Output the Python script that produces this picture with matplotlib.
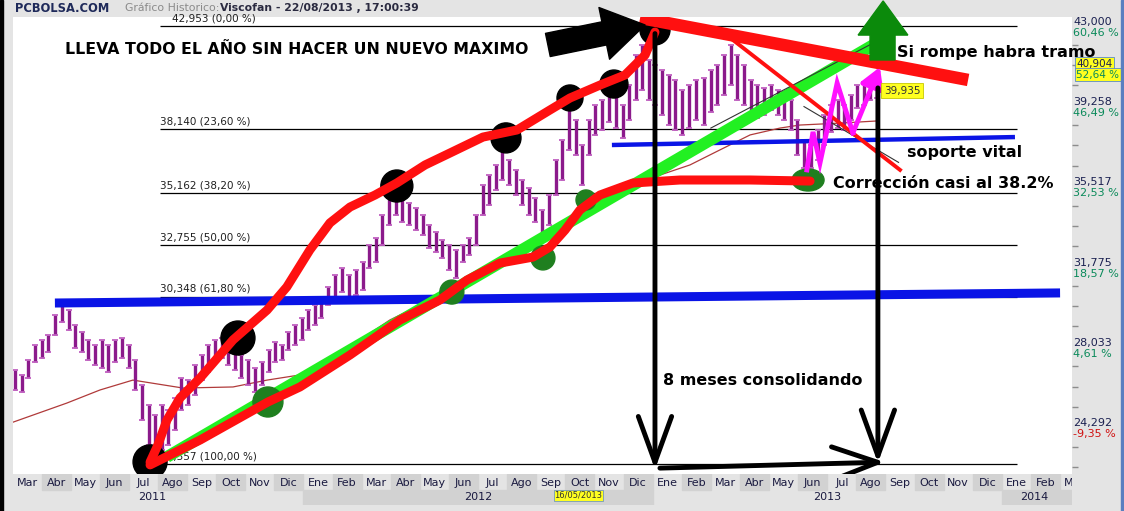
import matplotlib
matplotlib.use('Agg')
import matplotlib.pyplot as plt
from matplotlib.patches import Ellipse, Rectangle, Polygon
import numpy as np
import pandas as pd

plt.rcParams['font.family'] = ['DejaVu Sans']

# weekly high / low ranges (Viscofan, mar 2011 - ago 2013)
week_start = '2011-03-04'
week_high = [26.93, 26.70, 27.40, 28.09, 28.33, 28.56, 29.49, 29.96, 29.72, 29.02,
             28.70, 28.33, 28.09, 28.33, 28.09, 28.33, 28.42, 28.09, 27.40, 26.23,
             25.30, 24.83, 25.30, 25.07, 25.62, 26.56, 26.46, 27.16, 27.63, 28.09,
             28.33, 28.42, 28.23, 28.09, 27.63, 27.40, 27.02, 27.30, 27.86, 28.23,
             28.09, 28.70, 29.02, 29.35, 29.72, 29.96, 30.28, 30.80, 31.35, 31.68,
             31.35, 31.59, 31.96, 32.75, 33.08, 34.15, 34.94, 35.08, 34.85, 34.71,
             34.47, 34.15, 33.68, 33.36, 32.99, 32.75, 32.52, 32.75, 33.08, 34.15,
             35.55, 36.01, 36.48, 37.41, 36.71, 36.25, 35.78, 35.41, 34.94, 34.38,
             35.08, 36.71, 37.64, 39.51, 38.57, 37.41, 38.57, 39.27, 39.51, 39.74,
             39.88, 39.27, 40.20, 41.60, 42.07, 41.37, 41.14, 40.90, 40.67, 40.44,
             39.97, 40.20, 40.44, 40.53, 40.90, 41.14, 41.60, 42.07, 41.60, 41.14,
             40.44, 40.20, 40.07, 40.20, 39.97, 39.88, 39.51, 38.57, 37.64, 37.41,
             38.11, 38.81, 39.27, 39.51, 39.27, 39.74, 40.20, 40.35, 40.20, 40.07]
week_low = [26.00, 25.90, 26.56, 27.30, 27.49, 27.77, 28.56, 29.16, 28.79, 27.95,
            27.77, 27.40, 27.16, 27.02, 26.84, 27.30, 27.49, 27.02, 26.00, 24.60,
            23.44, 22.51, 23.20, 23.44, 24.13, 25.07, 25.30, 25.77, 26.46, 26.84,
            27.30, 27.49, 27.16, 26.93, 26.56, 26.23, 25.90, 26.23, 26.84, 27.30,
            27.40, 27.86, 28.09, 28.33, 28.79, 29.02, 29.35, 29.96, 30.28, 30.56,
            30.33, 30.42, 30.66, 31.68, 31.96, 32.75, 33.68, 34.15, 33.82, 33.68,
            33.45, 33.22, 32.61, 32.43, 32.15, 31.59, 31.21, 31.96, 32.29, 32.75,
            34.15, 34.61, 35.31, 35.78, 35.55, 35.08, 34.61, 34.15, 33.82, 33.08,
            33.68, 35.08, 35.78, 37.18, 36.94, 35.55, 36.94, 37.88, 38.11, 38.48,
            38.20, 37.74, 38.57, 39.51, 39.97, 39.51, 39.27, 38.81, 38.34, 38.11,
            37.88, 38.20, 38.57, 38.34, 38.95, 39.27, 39.74, 40.20, 39.51, 39.27,
            38.81, 38.66, 38.81, 39.04, 38.81, 38.57, 38.11, 36.94, 36.34, 36.34,
            36.71, 37.41, 38.02, 38.20, 38.11, 38.57, 39.13, 39.27, 39.51, 39.60]

# moving average (x in months counted from ene 2011)
ma_month = [2.02, 3.87, 5.01, 6.14, 7.86, 9.58, 10.75, 11.88, 12.91, 13.94, 14.97, 16.01,
            17.04, 18.07, 19.10, 20.13, 20.82, 21.50, 22.19, 22.88, 23.57, 24.25, 25.28,
            26.31, 27.35, 28.38, 29.06, 30.44, 31.71]
ma_value = [24.50, 25.39, 26.00, 26.46, 26.09, 26.14, 26.46, 26.70, 27.40, 28.33, 29.26, 29.96,
            30.66, 31.50, 32.29, 33.08, 33.68, 34.38, 34.94, 35.31, 35.69, 36.01, 36.48,
            37.18, 37.88, 38.20, 38.34, 38.43, 38.53]

fib_values = [42.953, 38.140, 35.162, 32.755, 30.348, 22.557]
fib_labels = ['42,953 (0,00 %)', '38,140 (23,60 %)', '35,162 (38,20 %)',
              '32,755 (50,00 %)', '30,348 (61,80 %)', '22,557 (100,00 %)']

axis_values = [43.000, 39.258, 35.517, 31.775, 28.033, 24.292]
axis_pct = ['60,46 %', '46,49 %', '32,53 %', '18,57 %', '4,61 %', '-9,35 %']
last_price = 40.904
last_pct = '52,64 %'
cursor_price = 39.935

month_names = ['Ene', 'Feb', 'Mar', 'Abr', 'May', 'Jun', 'Jul', 'Ago', 'Sep', 'Oct', 'Nov', 'Dic']
year_names = ['2011', '2012', '2013', '2014']
year_centers = [6.8, 18.0, 30.0, 37.1]

# hand drawn annotations (month, price)
upper_red_m = [6.73, 7.00, 7.31, 7.76, 8.45, 9.58, 10.75, 11.43, 12.22, 12.91, 13.60, 14.46,
               15.21, 16.18, 17.04, 18.17, 19.34, 20.47, 21.16, 22.19, 23.05, 23.74, 24.08]
upper_red_v = [22.64, 23.44, 24.60, 25.63, 26.56, 28.33, 29.72, 30.80, 32.52, 33.78, 34.52, 35.08,
               35.64, 36.48, 37.04, 37.78, 38.11, 39.04, 39.60, 40.20, 40.67, 41.60, 42.67]
lower_red_m = [6.73, 8.45, 10.78, 11.88, 13.60, 15.32, 16.69, 17.62, 18.75, 19.89, 20.47,
               20.99, 21.50, 22.19, 23.32, 24.94, 27.35, 29.41]
lower_red_v = [22.51, 23.67, 25.44, 26.14, 27.63, 29.26, 30.19, 31.12, 31.91, 32.19, 32.66,
               33.45, 34.38, 35.08, 35.64, 35.78, 35.78, 35.73]
lime_m = [7.31, 31.81]
lime_v = [22.88, 42.25]
top_red_m = [23.57, 34.84]
top_red_v = [43.33, 40.44]
thin_red_m = [26.76, 32.50]
thin_red_v = [42.30, 36.25]
blue_long_m = [3.46, 38.0]
blue_long_v = [30.05, 30.52]
blue_short_m = [22.60, 36.45]
blue_short_v = [37.41, 37.78]
zig_m = [29.30, 29.51, 29.75, 30.34, 30.88, 31.81]
zig_v = [36.25, 38.02, 36.57, 40.30, 37.97, 41.04]
black_dots_m = [6.73, 9.75, 15.21, 18.96, 21.16, 22.67, 24.08]
black_dots_v = [22.65, 28.42, 35.50, 37.74, 39.60, 40.25, 42.77]
green_dots_m = [10.78, 17.10, 20.23, 21.71, 29.34]
green_dots_v = [25.44, 30.56, 32.15, 34.85, 35.78]

MX = 29.1   # px per month
PY = 21.47  # px per euro
black_r = [17, 17, 16, 15, 13, 14, 15]
green_w = [30, 24, 24, 20, 32]
green_h = [30, 24, 24, 20, 22]

dates = pd.date_range(week_start, periods=len(week_high), freq='7D')
week_m = np.array([(d.year - 2011) * 12 + d.month - 1 + (d.day - 1) / d.days_in_month for d in dates])

W, H = 1124, 511
fig = plt.figure(figsize=(W / 100, H / 100), dpi=100, facecolor='#e4e4e4')
ax = fig.add_axes([13 / W, (H - 474) / H, 1059 / W, 457 / H])
ax.set_facecolor('white')
ax.set_xlim(2.02, 38.41)
ax.set_ylim(22.086, 43.372)
for s in ax.spines.values():
    s.set_visible(False)
ax.set_xticks([])
ax.yaxis.tick_right()
ticks = np.arange(43.0, 22.0, -0.9355)
ax.set_yticks([t for i, t in enumerate(ticks) if i % 4 != 0])
ax.set_yticklabels([])
ax.tick_params(axis='y', length=4, color='#8c8c8c', width=1)

# fibonacci levels
ax.hlines(fib_values, 7.07, 36.52, color='black', lw=0.9, zorder=1)
for i, (v, lab) in enumerate(zip(fib_values, fib_labels)):
    x0 = 7.48 if i == 0 else 7.07
    ax.annotate(lab, (x0, v), xytext=(0, 2), textcoords='offset points',
                fontsize=7.5, color='#202020', va='bottom', ha='left', zorder=1)

ax.plot(ma_month, ma_value, color='#b03a3a', lw=0.9, zorder=2)
ax.vlines(week_m, week_low, week_high, color='#8b1a8b', lw=2.4, zorder=3)
ax.plot(week_m, week_high, '_', color='#c060c0', ms=5, mew=1.3, zorder=3)
ax.plot(week_m, week_low, '_', color='#c060c0', ms=5, mew=1.3, zorder=3)

ax.plot(blue_long_m, blue_long_v, color='#0a14e6', lw=6.5, solid_capstyle='butt', zorder=4)
ax.plot(blue_short_m, blue_short_v, color='#0a14e6', lw=3.2, solid_capstyle='butt', zorder=4)
ax.plot(lime_m, lime_v, color='#22f022', lw=8.5, solid_capstyle='butt', zorder=5)
ax.plot([26.0, 31.85], [38.2, 42.35], color='#333333', lw=0.8, zorder=5)
ax.plot([29.2, 32.45], [39.2, 36.6], color='#333333', lw=0.8, zorder=5)

for m, v, w, h in zip(green_dots_m, green_dots_v, green_w, green_h):
    ax.add_patch(Ellipse((m, v), w / MX, h / PY, color='#1f7f1f', zorder=6))
for m, v, r in zip(black_dots_m, black_dots_v, black_r):
    ax.add_patch(Ellipse((m, v), 2 * r / MX, 2 * r / PY, color='black', zorder=6))

red = '#ff1010'
ax.plot(upper_red_m, upper_red_v, color=red, lw=6.5, solid_capstyle='round', solid_joinstyle='round', zorder=7)
ax.plot(lower_red_m, lower_red_v, color=red, lw=6.5, solid_capstyle='round', solid_joinstyle='round', zorder=7)
ax.plot(top_red_m, top_red_v, color=red, lw=9, solid_capstyle='butt', zorder=7)
ax.plot(thin_red_m, thin_red_v, color=red, lw=2.8, zorder=7)

ax.plot(zig_m[:-1], zig_v[:-1], color='#ff10ff', lw=3.5, solid_joinstyle='miter', zorder=8)
ax.annotate('', xy=(zig_m[-1], zig_v[-1]), xytext=(zig_m[-2], zig_v[-2]),
            arrowprops=dict(arrowstyle='-|>,head_length=0.6,head_width=0.35', color='#ff10ff',
                            lw=3.5, mutation_scale=20, shrinkA=0, shrinkB=0), zorder=8)

# black arrows
varrow = dict(arrowstyle='->,head_length=1.1,head_width=0.4', color='black', lw=3.5,
              mutation_scale=30, shrinkA=0, shrinkB=0)
ax.annotate('', xy=(24.08, 22.30), xytext=(24.08, 42.6), arrowprops=varrow, zorder=9)
ax.annotate('', xy=(31.74, 22.60), xytext=(31.74, 40.07), arrowprops=varrow, zorder=9)
ax.annotate('', xy=(31.98, 22.64), xytext=(24.25, 22.36), arrowprops=varrow, zorder=9)
ax.annotate('', xy=(23.74, 43.0), xytext=(20.40, 42.07),
            arrowprops=dict(arrowstyle='simple,head_length=1.5,head_width=1.9,tail_width=0.85',
                            color='black', mutation_scale=20, shrinkA=0, shrinkB=0), zorder=9)

# green arrow going out of the top of the chart
ax.add_patch(Polygon([(31.47, 41.37), (32.33, 41.37), (32.33, 42.53), (32.77, 42.53),
                      (31.92, 44.12), (31.06, 42.53), (31.47, 42.53)],
                     closed=True, color='#0b8a0b', clip_on=False, zorder=9))

tkw = dict(fontsize=11.5, fontweight='bold', color='black', va='center', ha='left', zorder=10)
ax.text(3.81, 41.84, 'LLEVA TODO EL AÑO SIN HACER UN NUEVO MAXIMO', fontsize=11.3,
        fontweight='bold', color='black', va='center', ha='left', zorder=10)
ax.text(32.40, 41.70, 'Si rompe habra tramo', **tkw)
ax.text(32.74, 37.08, 'soporte vital', **tkw)
ax.text(30.20, 35.64, 'Corrección casi al 38.2%', **tkw)
ax.text(24.36, 26.46, '8 meses consolidando', **tkw)

ax.text(31.95, cursor_price, '39,935', fontsize=7.5, color='#333333', va='center', ha='left', zorder=10,
        bbox=dict(boxstyle='square,pad=0.25', fc='#ffff20', ec='#c8c800', lw=0.6))

# right price scale
yt = ax.get_yaxis_transform()
for v, p in zip(axis_values, axis_pct):
    ax.annotate(f'{v:,.3f}'.replace('.', ','), (1.001, v), xycoords=yt, xytext=(0, 2.5),
                textcoords='offset points', fontsize=8, color='#1a2050', va='center', ha='left',
                annotation_clip=False)
    ax.annotate(p, (1.001, v), xycoords=yt, xytext=(0, -5.5), textcoords='offset points',
                fontsize=8, color='#d01010' if p.startswith('-') else '#0a8a5a',
                va='center', ha='left', annotation_clip=False)
ax.annotate(f'{last_price:.3f}'.replace('.', ','), (1.004, last_price), xycoords=yt, xytext=(0, 4.5),
            textcoords='offset points', fontsize=7.5, color='#1a2050', va='center', ha='left',
            annotation_clip=False,
            bbox=dict(boxstyle='square,pad=0.15', fc='#ffff20', ec='#5a8ac8', lw=0.6))
ax.annotate(last_pct, (1.004, last_price), xycoords=yt, xytext=(0, -3.5), textcoords='offset points',
            fontsize=7.5, color='#0a8a5a', va='center', ha='left', annotation_clip=False,
            bbox=dict(boxstyle='square,pad=0.15', fc='#ffff20', ec='#5a8ac8', lw=0.6))

# date strip
bx = fig.add_axes([13 / W, (H - 505) / H, 1059 / W, 31 / H])
bx.set_xlim(ax.get_xlim())
bx.set_ylim(0, 2)
bx.axis('off')
bx.add_patch(Rectangle((2, 0), 37, 2, color='#e4e4e4', zorder=0))
for m in range(2, 39):
    if m % 12 % 2 == 1:
        bx.add_patch(Rectangle((m, 1), 1, 1, color='#d2d2d2', zorder=1))
    bx.text(m + 0.5, 1.45, month_names[m % 12], fontsize=8, color='#1a1a40', ha='center',
            va='center', clip_on=True, zorder=2)
bx.add_patch(Rectangle((12, 0), 12, 1, color='#d2d2d2', zorder=1))
bx.add_patch(Rectangle((36, 0), 3, 1, color='#d2d2d2', zorder=1))
for c, y in zip(year_centers, year_names):
    bx.text(c, 0.5, y, fontsize=8, color='#1a1a40', ha='center', va='center', zorder=2)
bx.text(21.45, 0.62, '16/05/2013', fontsize=6, color='#333333', ha='center', va='center', zorder=3,
        bbox=dict(boxstyle='square,pad=0.1', fc='#ffff20', ec='#5a8ac8', lw=0.5))

# header and frame details
fig.text(15 / W, 1 - 8 / H, 'PCBOLSA.COM', fontsize=8.3, fontweight='bold', color='#1f2a5a', va='center')
fig.text(125 / W, 1 - 8 / H, 'Gráfico Historico:', fontsize=7.8, color='#8a8a8a', va='center')
fig.text(220 / W, 1 - 8 / H, 'Viscofan - 22/08/2013 , 17:00:39', fontsize=7.8, fontweight='bold',
         color='#2a2a40', va='center')
fig.patches.append(Rectangle((0, 0), 3 / W, 1, transform=fig.transFigure, color='black'))
fig.patches.append(Rectangle((1121 / W, 0), 3 / W, 1, transform=fig.transFigure, color='#5a7fc0'))

fig.savefig('out.png', dpi=100, facecolor=fig.get_facecolor())
